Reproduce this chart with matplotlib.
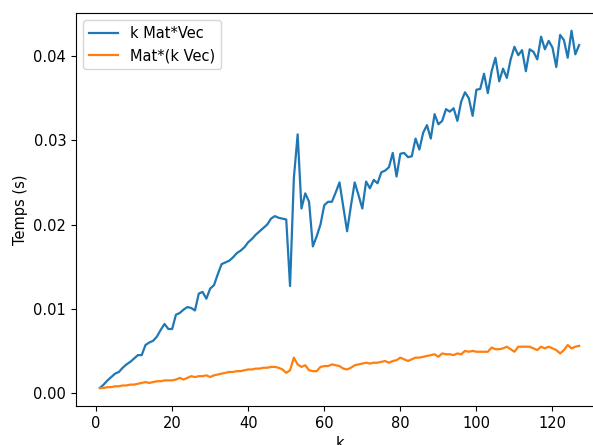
import numpy as np
import matplotlib
matplotlib.use('Agg')
import matplotlib.pyplot as plt

# valeurs de k
k = np.arange(1, 128)

# temps pour k Mat*Vec (s)
t_kmatvec = [
    0.0006, 0.0010, 0.0015, 0.0019, 0.0023, 0.0025, 0.0030, 0.0034, 0.0037, 0.0041,
    0.0045, 0.0045, 0.0057, 0.0060, 0.0062, 0.0067, 0.0075, 0.0082, 0.0076, 0.0076,
    0.0093, 0.0095, 0.0099, 0.0102, 0.0101, 0.0098, 0.0118, 0.0120, 0.0112, 0.0124,
    0.0128, 0.0141, 0.0153, 0.0155, 0.0157, 0.0161, 0.0166, 0.0169, 0.0173, 0.0179,
    0.0183, 0.0188, 0.0192, 0.0196, 0.0200, 0.0207, 0.0210, 0.0208, 0.0207, 0.0206,
    0.0127, 0.0255, 0.0307, 0.0219, 0.0237, 0.0227, 0.0174, 0.0186, 0.0200, 0.0223,
    0.0227, 0.0227, 0.0238, 0.0250, 0.0221, 0.0192, 0.0222, 0.0250, 0.0235, 0.0219,
    0.0251, 0.0243, 0.0253, 0.0249, 0.0262, 0.0264, 0.0268, 0.0285, 0.0257, 0.0284,
    0.0285, 0.0280, 0.0281, 0.0302, 0.0289, 0.0309, 0.0318, 0.0302, 0.0331, 0.0319,
    0.0323, 0.0337, 0.0334, 0.0338, 0.0323, 0.0346, 0.0357, 0.0350, 0.0329, 0.0360,
    0.0361, 0.0379, 0.0356, 0.0382, 0.0398, 0.0370, 0.0385, 0.0374, 0.0396, 0.0411,
    0.0401, 0.0407, 0.0382, 0.0408, 0.0405, 0.0396, 0.0423, 0.0408, 0.0418, 0.0410,
    0.0387, 0.0425, 0.0419, 0.0398, 0.0430, 0.0402, 0.0413,
]

# temps pour Mat*(k Vec) (s)
t_matkvec = [
    0.0006, 0.0006, 0.0007, 0.0007, 0.0008, 0.0008, 0.0009, 0.0009, 0.0010, 0.0010,
    0.0011, 0.0012, 0.0013, 0.0012, 0.0013, 0.0014, 0.0014, 0.0015, 0.0015, 0.0015,
    0.0016, 0.0018, 0.0016, 0.0018, 0.0020, 0.0019, 0.0020, 0.0020, 0.0021, 0.0019,
    0.0021, 0.0022, 0.0023, 0.0024, 0.0025, 0.0025, 0.0026, 0.0026, 0.0027, 0.0028,
    0.0028, 0.0029, 0.0029, 0.0030, 0.0030, 0.0031, 0.0031, 0.0030, 0.0028, 0.0024,
    0.0027, 0.0042, 0.0034, 0.0031, 0.0033, 0.0027, 0.0026, 0.0026, 0.0031, 0.0032,
    0.0032, 0.0034, 0.0033, 0.0032, 0.0029, 0.0028, 0.0030, 0.0033, 0.0034, 0.0035,
    0.0036, 0.0035, 0.0036, 0.0036, 0.0037, 0.0038, 0.0036, 0.0038, 0.0039, 0.0042,
    0.0040, 0.0038, 0.0040, 0.0042, 0.0042, 0.0043, 0.0044, 0.0045, 0.0046, 0.0043,
    0.0047, 0.0046, 0.0046, 0.0045, 0.0047, 0.0046, 0.0050, 0.0049, 0.0050, 0.0049,
    0.0049, 0.0049, 0.0049, 0.0054, 0.0052, 0.0052, 0.0053, 0.0055, 0.0052, 0.0049,
    0.0055, 0.0055, 0.0055, 0.0055, 0.0053, 0.0051, 0.0055, 0.0053, 0.0055, 0.0053,
    0.0051, 0.0047, 0.0051, 0.0057, 0.0053, 0.0055, 0.0056,
]

plt.rcParams['font.size'] = 10.5

fig = plt.figure(figsize=(5.93, 4.45), dpi=100)
# la figure d'origine est rognée à droite et en bas : le bord droit des axes sort de l'image
ax = fig.add_axes([0.128, 0.088, 0.889, 0.883])

ax.plot(k, t_kmatvec, label='k Mat*Vec', linewidth=1.6)
ax.plot(k, t_matkvec, label='Mat*(k Vec)', linewidth=1.6)
ax.set_xlim(-5.3, 133.3)
ax.spines['right'].set_visible(False)  # hors de l'image de toute façon
ax.set_xlabel('k')
ax.set_ylabel('Temps (s)')
ax.set_yticks([0.0, 0.01, 0.02, 0.03, 0.04])
ax.legend(loc='upper left')

fig.savefig('out.png', dpi=100)
